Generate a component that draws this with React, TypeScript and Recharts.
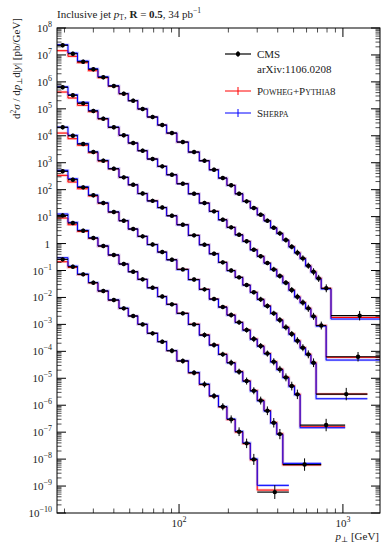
import React from 'react';
import { ComposedChart, Line, Scatter, XAxis, YAxis, ErrorBar } from 'recharts';

const W = 382, H = 543;
const PL = 57, PR = 380, PT = 28, PB = 513;
const FONT = "'Liberation Serif', 'DejaVu Serif', serif";

// Bin edges (GeV) per rapidity slice
const edges1 = [18,21,24,28,32,37,43,49,56,64,74,84,97,114,133,153,174,196,220,245,272,300,330,362,395,430,468,507,548,592,638,686,737,846,1684];
const edges2 = [18,21,24,28,32,37,43,49,56,64,74,84,97,114,133,153,174,196,220,245,272,300,330,362,395,430,468,507,548,592,638,686,790,1684];
const edges3 = [18,21,24,28,32,37,43,49,56,64,74,84,97,114,133,153,174,196,220,245,272,300,330,362,395,430,468,507,548,592,638,686,1410];
const edges4 = [18,21,24,28,32,37,43,49,56,64,74,84,97,114,133,153,174,196,220,245,272,300,330,362,395,430,468,507,548,1032];
const edges5 = [18,21,24,28,32,37,43,49,56,64,74,84,97,114,133,153,174,196,220,245,272,300,330,362,395,430,737];
const edges6 = [18,21,24,28,32,37,43,49,56,64,74,84,97,114,133,153,174,196,220,245,272,300,468];

// CMS data
const cms1 = [2.28e7,1.11e7,5.6e6,2.93e6,1.48e6,7.0e5,3.64e5,2.0e5,9.85e4,4.97e4,2.5e4,1.26e4,5.86e3,2.49e3,1.19e3,550,270,145,70.6,36.9,20.8,11.7,7.03,3.86,2.39,1.35,0.76,0.456,0.282,0.150,0.090,0.051,0.0218,0.0021];
const cms2 = [6.30e5,3.18e5,1.60e5,8.30e4,4.30e4,2.06e4,1.04e4,5.38e3,2.79e3,1.37e3,735,359,166,70.6,31.9,15.7,7.66,4.00,2.12,1.21,0.590,0.336,0.189,0.110,0.0622,0.0352,0.0188,0.0106,0.00647,0.00394,0.00199,9.06e-4,6.3e-5];
const cms3 = [2.06e4,1.00e4,4.94e3,2.49e3,1.19e3,598,287,152,71.9,38.5,21.7,10.8,5.00,2.02,0.904,0.419,0.201,0.0996,0.0557,0.0288,0.0155,0.00849,0.00480,0.00257,0.00145,7.76e-4,4.38e-4,2.47e-4,1.36e-4,7.73e-5,3.77e-5,2.59e-6];
const cms4 = [480,234,122,61.7,31.9,14.8,7.03,3.46,1.85,0.920,0.484,0.251,0.110,0.0461,0.0200,0.00873,0.00441,0.00222,0.00119,6.17e-4,2.86e-4,1.57e-4,8.26e-5,4.10e-5,2.14e-5,1.08e-5,5.14e-6,2.53e-6,1.84e-7];
const cms5 = [11.1,5.78,2.99,1.60,0.809,0.375,0.174,0.0899,0.0470,0.0229,0.0108,0.00555,0.00257,0.00100,4.02e-4,1.71e-4,7.73e-5,3.77e-5,1.75e-5,7.88e-6,3.44e-6,1.49e-6,6.22e-7,2.23e-7,8.49e-8,6.27e-9];
const cms6 = [0.259,0.138,0.0720,0.0352,0.0173,0.00800,0.00394,0.00204,0.00100,4.65e-4,2.27e-4,1.05e-4,4.36e-5,1.60e-5,5.94e-6,2.19e-6,8.77e-7,2.99e-7,1.04e-7,3.84e-8,9.77e-9,5.97e-10];

// relative uncertainties of the CMS points
const err1 = [0.2,0.2,0.2,0.2,0.2,0.2,0.2,0.2,0.2,0.2,0.2,0.2,0.2,0.2,0.2,0.2,0.2,0.2,0.2,0.2,0.2,0.2,0.2,0.2,0.25,0.25,0.25,0.3,0.3,0.3,0.35,0.35,0.4,0.5];
const err2 = [0.2,0.2,0.2,0.2,0.2,0.2,0.2,0.2,0.2,0.2,0.2,0.2,0.2,0.2,0.2,0.2,0.2,0.2,0.2,0.2,0.2,0.2,0.2,0.25,0.25,0.25,0.3,0.3,0.3,0.35,0.35,0.4,0.5];
const err3 = [0.2,0.2,0.2,0.2,0.2,0.2,0.2,0.2,0.2,0.2,0.2,0.2,0.2,0.2,0.2,0.2,0.2,0.2,0.2,0.2,0.2,0.25,0.25,0.25,0.3,0.3,0.3,0.35,0.35,0.4,0.45,0.7];
const err4 = [0.2,0.2,0.2,0.2,0.2,0.2,0.2,0.2,0.2,0.2,0.2,0.2,0.2,0.2,0.2,0.2,0.2,0.25,0.25,0.25,0.3,0.3,0.3,0.35,0.35,0.4,0.45,0.5,0.7];
const err5 = [0.2,0.2,0.2,0.2,0.2,0.2,0.2,0.2,0.2,0.2,0.2,0.2,0.2,0.2,0.25,0.25,0.25,0.3,0.3,0.35,0.35,0.4,0.45,0.5,0.55,0.7];
const err6 = [0.2,0.2,0.2,0.2,0.2,0.2,0.2,0.2,0.2,0.2,0.2,0.25,0.25,0.25,0.3,0.3,0.35,0.4,0.45,0.5,0.6,0.8];

// Powheg+Pythia8
const powheg1 = [1.44e7,8.9e6,5.15e6,2.6e6,1.42e6,6.9e5,3.6e5,2.0e5,9.8e4,4.95e4,2.5e4,1.25e4,5.8e3,2.47e3,1.18e3,548,270,145,70,37,20.8,11.6,7.0,3.85,2.4,1.36,0.77,0.46,0.285,0.152,0.091,0.052,0.022,1.8e-3];
const powheg2 = [4.2e5,2.52e5,1.35e5,7.8e4,4.2e4,2.04e4,1.03e4,5.35e3,2.78e3,1.37e3,735,358,166,70.5,32,15.8,7.7,4.0,2.13,1.22,0.595,0.34,0.19,0.111,0.063,0.0355,0.019,0.0107,0.0066,0.004,0.00202,9.2e-4,6.0e-5];
const powheg3 = [1.26e4,7.78e3,4.43e3,2.35e3,1.15e3,590,285,151,71.5,38.5,21.7,10.8,5.0,2.02,0.91,0.42,0.203,0.1,0.056,0.029,0.0157,0.0086,0.0049,0.0026,0.00148,7.9e-4,4.45e-4,2.5e-4,1.38e-4,7.9e-5,3.85e-5,2.6e-6];
const powheg4 = [340,192,108,58,31,14.6,7.0,3.45,1.85,0.92,0.485,0.252,0.111,0.0465,0.0202,0.0088,0.00445,0.00225,0.0012,6.25e-4,2.9e-4,1.6e-4,8.4e-5,4.2e-5,2.2e-5,1.11e-5,5.3e-6,2.6e-6,1.59e-7];
const powheg5 = [8.85,5.0,2.8,1.55,0.8,0.372,0.174,0.09,0.047,0.023,0.0109,0.0056,0.0026,0.00102,4.1e-4,1.75e-4,7.9e-5,3.85e-5,1.8e-5,8.1e-6,3.55e-6,1.55e-6,6.4e-7,2.3e-7,8.8e-8,6.1e-9];
const powheg6 = [0.211,0.13,0.07,0.0345,0.0171,0.0079,0.0039,0.00205,0.00101,4.7e-4,2.3e-4,1.06e-4,4.4e-5,1.58e-5,5.8e-6,2.15e-6,8.6e-7,2.9e-7,1.0e-7,3.7e-8,9.3e-9,7.1e-10];

// Sherpa
const sherpa1 = [2.4e7,1.18e7,5.96e6,3.08e6,1.55e6,7.2e5,3.7e5,2.02e5,1.0e5,5.0e4,2.5e4,1.26e4,5.85e3,2.48e3,1.18e3,545,268,143,70,36.5,20.5,11.5,6.9,3.8,2.33,1.32,0.74,0.445,0.272,0.145,0.086,0.049,0.0205,1.58e-3];
const sherpa2 = [6.6e5,3.34e5,1.75e5,8.6e4,4.4e4,2.1e4,1.05e4,5.4e3,2.8e3,1.37e3,730,355,165,70,31.5,15.5,7.55,3.95,2.08,1.19,0.58,0.33,0.185,0.107,0.0605,0.034,0.0182,0.0102,0.0062,0.00378,0.0019,8.6e-4,4.74e-5];
const sherpa3 = [2.1e4,1.05e4,5.1e3,2.55e3,1.22e3,605,290,152,71.5,38,21.5,10.7,4.95,2.0,0.895,0.415,0.198,0.098,0.0548,0.0283,0.0152,0.0083,0.0047,0.00251,0.00141,7.5e-4,4.2e-4,2.36e-4,1.3e-4,7.35e-5,3.55e-5,1.74e-6];
const sherpa4 = [522,255,128,63,32.5,15,7.1,3.48,1.85,0.915,0.48,0.248,0.108,0.0455,0.0197,0.0086,0.00433,0.00217,0.00116,6.0e-4,2.78e-4,1.52e-4,8.0e-5,3.95e-5,2.05e-5,1.03e-5,4.9e-6,2.4e-6,1.46e-7];
const sherpa5 = [12.5,6.1,3.1,1.63,0.82,0.378,0.175,0.09,0.0468,0.0227,0.0107,0.0055,0.00254,9.9e-4,3.95e-4,1.68e-4,7.6e-5,3.7e-5,1.72e-5,7.7e-6,3.35e-6,1.45e-6,6.0e-7,2.15e-7,8.2e-8,6.95e-9];
const sherpa6 = [0.298,0.145,0.0735,0.036,0.0175,0.0081,0.004,0.00206,0.00102,4.7e-4,2.3e-4,1.07e-4,4.45e-5,1.65e-5,6.1e-6,2.25e-6,9.0e-7,3.1e-7,1.08e-7,4.0e-8,1.02e-8,1.06e-9];

const xTicks = [20,30,40,50,60,70,80,90,100,200,300,400,500,600,700,800,900,1000];
const yTicks: number[] = [];
for (let e = -10; e <= 8; e++) {
  for (let m = 1; m <= 9; m++) {
    if (e === 8 && m > 1) break;
    yTicks.push(Number(`${m}e${e}`));
  }
}

const slices = [
  { edges: edges1, cms: cms1, err: err1, powheg: powheg1, sherpa: sherpa1 },
  { edges: edges2, cms: cms2, err: err2, powheg: powheg2, sherpa: sherpa2 },
  { edges: edges3, cms: cms3, err: err3, powheg: powheg3, sherpa: sherpa3 },
  { edges: edges4, cms: cms4, err: err4, powheg: powheg4, sherpa: sherpa4 },
  { edges: edges5, cms: cms5, err: err5, powheg: powheg5, sherpa: sherpa5 },
  { edges: edges6, cms: cms6, err: err6, powheg: powheg6, sherpa: sherpa6 },
];

const steps = (edges: number[], vals: number[]) =>
  edges.map((e, i) => ({ x: e, y: vals[Math.min(i, vals.length - 1)] }));

const points = (edges: number[], vals: number[], err: number[]) =>
  vals.map((v, i) => {
    const c = (edges[i] + edges[i + 1]) / 2;
    const r = err[i];
    return { x: c, y: v, ex: [c - edges[i], edges[i + 1] - c], ey: [v - v / (1 + r), v * r] };
  });

const isDecade = (v: number) => {
  const e = Math.round(Math.log10(v));
  return Math.abs(v / Math.pow(10, e) - 1) < 1e-6;
};

const YTick = (props: any) => {
  const { y, payload } = props;
  const v = payload.value;
  const major = isDecade(v);
  const len = major ? 9 : 4.5;
  const e = Math.round(Math.log10(v));
  return (
    <g>
      <line x1={PL} x2={PL + len} y1={y} y2={y} stroke="#000" strokeWidth={major ? 1 : 0.7} />
      <line x1={PR} x2={PR - len} y1={y} y2={y} stroke="#000" strokeWidth={major ? 1 : 0.7} />
      {major && (
        e === 0 ? (
          <text x={50} y={y + 4} textAnchor="end" fontSize={11} fontFamily={FONT} fill="#222">1</text>
        ) : (
          <text x={52} y={y + 4} textAnchor="end" fontSize={11} fontFamily={FONT} fill="#222">
            10<tspan fontSize={8} dy={-5}>{e < 0 ? `\u2212${-e}` : `${e}`}</tspan>
          </text>
        )
      )}
    </g>
  );
};

const XTick = (props: any) => {
  const { x, payload } = props;
  const v = payload.value;
  const major = isDecade(v);
  const len = major ? 9 : 4.5;
  const e = Math.round(Math.log10(v));
  return (
    <g>
      <line x1={x} x2={x} y1={PB} y2={PB - len} stroke="#000" strokeWidth={major ? 1 : 0.7} />
      <line x1={x} x2={x} y1={PT} y2={PT + len} stroke="#000" strokeWidth={major ? 1 : 0.7} />
      {major && (
        <text x={x} y={PB + 14} textAnchor="middle" fontSize={11} fontFamily={FONT} fill="#222">
          10<tspan fontSize={8} dy={-5}>{`${e}`}</tspan>
        </text>
      )}
    </g>
  );
};

const Dot = (props: any) => {
  const { cx, cy } = props;
  if (cx == null || cy == null) return null;
  return <circle cx={cx} cy={cy} r={2.2} fill="#000" />;
};

export default function App() {
  return (
    <div style={{ position: 'absolute', left: 0, top: 0, width: W, height: H, background: '#fff' }}>
      <ComposedChart width={W} height={H} margin={{ top: PT, right: W - PR, bottom: 0, left: 0 }}>
        <XAxis dataKey="x" type="number" scale="log" domain={[18, 1684]} allowDataOverflow
          ticks={xTicks} interval={0} tick={<XTick />} tickLine={false} axisLine={false} height={H - PB} />
        <YAxis dataKey="y" type="number" scale="log" domain={[1e-10, 1e8]} allowDataOverflow
          ticks={yTicks} interval={0} tick={<YTick />} tickLine={false} axisLine={false} width={PL} />
        {slices.map((s, i) => (
          <Line key={`ph${i}`} data={steps(s.edges, s.powheg)} dataKey="y" type="stepAfter"
            stroke="#ffc4c4" strokeWidth={2.6} dot={false} activeDot={false} isAnimationActive={false} />
        ))}
        {slices.map((s, i) => (
          <Line key={`sh${i}`} data={steps(s.edges, s.sherpa)} dataKey="y" type="stepAfter"
            stroke="#c4c4ff" strokeWidth={2.6} dot={false} activeDot={false} isAnimationActive={false} />
        ))}
        {slices.map((s, i) => (
          <Line key={`p${i}`} data={steps(s.edges, s.powheg)} dataKey="y" type="stepAfter"
            stroke="#ff0000" strokeWidth={1} dot={false} activeDot={false} isAnimationActive={false} />
        ))}
        {slices.map((s, i) => (
          <Line key={`s${i}`} data={steps(s.edges, s.sherpa)} dataKey="y" type="stepAfter"
            stroke="#0000ff" strokeWidth={1} dot={false} activeDot={false} isAnimationActive={false} />
        ))}
        {slices.map((s, i) => (
          <Scatter key={`c${i}`} data={points(s.edges, s.cms, s.err)} dataKey="y" shape={<Dot />}
            isAnimationActive={false}>
            <ErrorBar dataKey="ex" direction="x" width={0} stroke="#000" strokeWidth={1.2} />
            <ErrorBar dataKey="ey" direction="y" width={0} stroke="#000" strokeWidth={1} />
          </Scatter>
        ))}
      </ComposedChart>
      <svg width={W} height={H} style={{ position: 'absolute', left: 0, top: 0, pointerEvents: 'none' }}
        fontFamily={FONT}>
        <rect x={PL} y={PT} width={PR - PL} height={PB - PT} fill="none" stroke="#000" strokeWidth={1} />
        <text x={57} y={18} fontSize={11} fill="#222">
          Inclusive jet <tspan fontStyle="italic">p</tspan><tspan fontSize={7.5} dy={2}>T</tspan>
          <tspan dy={-2}>, </tspan><tspan fontWeight="bold">R</tspan> = <tspan fontWeight="bold">0.5</tspan>, 34 pb
          <tspan fontSize={7.5} dy={-5}>{'\u22121'}</tspan>
        </text>
        <text transform="translate(20,18) rotate(-90)" textAnchor="end" fontSize={11} fill="#222">
          d<tspan fontSize={7.5} dy={-4}>2</tspan><tspan dy={4} fontStyle="italic">σ</tspan> / d<tspan fontStyle="italic">p</tspan>
          <tspan fontSize={7.5} dy={2}>⊥</tspan><tspan dy={-2}>d|</tspan><tspan fontStyle="italic">y</tspan>| [pb/GeV]
        </text>
        <text x={379} y={540} textAnchor="end" fontSize={11} fill="#222">
          <tspan fontStyle="italic">p</tspan><tspan fontSize={7.5} dy={2}>⊥</tspan><tspan dy={-2}> [GeV]</tspan>
        </text>
        {/* legend */}
        <line x1={225} x2={251} y1={54} y2={54} stroke="#000" strokeWidth={1.2} />
        <line x1={238} x2={238} y1={51} y2={57} stroke="#000" strokeWidth={1} />
        <circle cx={238} cy={54} r={2.2} fill="#000" />
        <text x={257} y={58} fontSize={11} fill="#222">CMS</text>
        <text x={257} y={73} fontSize={11} fill="#222">arXiv:1106.0208</text>
        <line x1={225} x2={251} y1={91} y2={91} stroke="#ff0000" strokeWidth={1} />
        <line x1={238} x2={238} y1={87} y2={95} stroke="#ff0000" strokeWidth={1} />
        <text x={257} y={95} fontSize={11} fill="#222" style={{ fontVariant: 'small-caps' }}>Powheg+Pythia8</text>
        <line x1={225} x2={251} y1={113} y2={113} stroke="#0000ff" strokeWidth={1} />
        <line x1={238} x2={238} y1={109} y2={117} stroke="#0000ff" strokeWidth={1} />
        <text x={257} y={117} fontSize={11} fill="#222" style={{ fontVariant: 'small-caps' }}>Sherpa</text>
      </svg>
    </div>
  );
}
